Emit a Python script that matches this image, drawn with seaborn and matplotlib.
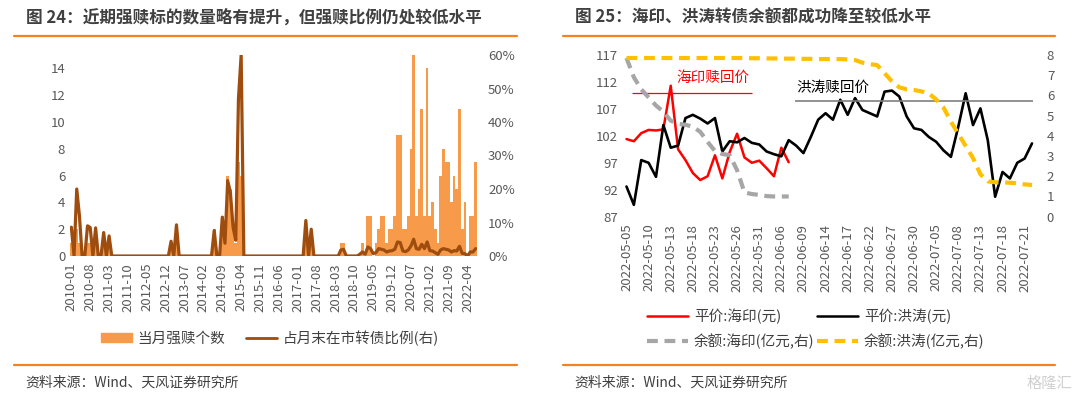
import numpy as np
import pandas as pd
import matplotlib
matplotlib.use("Agg")
import matplotlib.pyplot as plt
import seaborn as sns
from matplotlib.lines import Line2D
from matplotlib.patches import Patch
from matplotlib.ticker import FuncFormatter

sns.set_theme(style="white")
plt.rcParams["font.family"] = ["Noto Sans CJK SC", "DejaVu Sans"]

# ---------------- 图24 data (monthly, 2010-01 .. 2022-07)
months = pd.date_range("2010-01", periods=151, freq="MS").strftime("%Y-%m").tolist()

redeem_count = [
    1, 0, 2, 1, 0, 0, 1, 1, 0, 1, 0, 0,      # 2010
    1, 0, 1, 0, 0, 0, 0, 0, 0, 0, 0, 0,      # 2011
    0, 0, 0, 0, 0, 0, 0, 0, 0, 0, 0, 0,      # 2012
    0, 1, 0, 2, 0, 0, 0, 0, 0, 0, 0, 0,      # 2013
    0, 0, 0, 0, 0, 2, 0, 0, 3, 1, 6, 5,      # 2014
    2, 1, 7, 6, 0, 0, 0, 0, 0, 0, 0, 0,      # 2015
    0, 0, 0, 0, 0, 0, 0, 0, 0, 0, 0, 0,      # 2016
    0, 0, 0, 1, 0, 1, 0, 0, 0, 0, 0, 0,      # 2017
    0, 0, 0, 0, 1, 1, 0, 0, 0, 0, 0, 0,      # 2018
    1, 0, 3, 3, 0, 1, 2, 3, 3, 1, 2, 2,      # 2019
    3, 9, 9, 2, 2, 3, 8, 15, 3, 5, 11, 3,    # 2020
    14, 3, 4, 2, 1, 6, 8, 7, 7, 4, 6, 5,     # 2021
    11, 2, 4, 0, 3, 3, 7,                    # 2022
]

# 占月末在市转债比例 (%)
redeem_ratio = [
    8.6, 0, 20, 12, 0, 0, 9, 8.5, 0, 8.4, 0, 0,
    7, 0, 6, 0, 0, 0, 0, 0, 0, 0, 0, 0,
    0, 0, 0, 0, 0, 0, 0, 0, 0, 0, 0, 0,
    0, 4.4, 0, 9.3, 0, 0, 0, 0, 0, 0, 0, 0,
    0, 0, 0, 0, 0, 7.6, 0, 0, 11.6, 3.8, 22.5, 19,
    8.6, 4.7, 47, 60, 0, 0, 0, 0, 0, 0, 0, 0,
    0, 0, 0, 0, 0, 0, 0, 0, 0, 0, 0, 0,
    0, 0, 0, 10.6, 0, 8, 0, 0, 0, 0, 0, 0,
    0, 0, 0, 0, 1.8, 2, 0, 0, 0, 0, 0, 0.5,
    1.2, 0.5, 2.7, 2.2, 0.7, 1, 2.2, 2, 1.8, 1.2, 1.5, 1.6,
    2, 4.2, 4, 1.5, 1.3, 1.8, 3, 5, 2.2, 2, 3.5, 2.2,
    4.2, 1.6, 1.5, 1, 0.5, 1.8, 2.2, 2, 1.8, 1.2, 1.6, 1.5,
    2.9, 0.8, 0.7, 0, 1.2, 1.2, 2.2,
]

# ---------------- 图25 data (trading days)
days = (pd.bdate_range("2022-05-05", "2022-07-22")
        .drop(pd.Timestamp("2022-06-03")).strftime("%Y-%m-%d").tolist())

haiyin_price = [101.4, 101.0, 102.5, 103.1, 103.0, 103.2, 111.3, 99.5, 97.5, 95.1,
                93.8, 94.5, 98.4, 94.1, 99.0, 102.4, 98.0, 97.0, 97.4, 96.0,
                94.5, 99.8, 97.1]
hongtao_price = [92.6, 89.2, 97.5, 97.0, 94.4, 104.0, 99.8, 100.2, 105.3, 105.9,
                 105.2, 104.3, 105.3, 99.1, 101.0, 100.8, 101.6, 100.7, 100.4, 99.1,
                 98.6, 98.2, 101.2, 100.2, 98.8, 101.8, 105.0, 106.2, 105.0, 108.7,
                 105.9, 109.0, 106.8, 106.2, 105.6, 110.2, 110.4, 109.3, 105.6, 103.4,
                 103.1, 101.8, 100.9, 99.3, 98.1, 103.7, 109.9, 104.0, 107.1, 101.2,
                 90.7, 95.3, 94.1, 97.0, 97.8, 100.6]
haiyin_balance = [7.85, 6.9, 6.3, 5.9, 5.5, 5.2, 4.75, 4.6, 4.55, 4.45,
                  4.2, 3.7, 3.25, 3.1, 3.05, 2.3, 1.2, 1.12, 1.08, 1.02,
                  1.0, 1.0, 1.0]
hongtao_balance = [7.85, 7.85, 7.85, 7.85, 7.85, 7.85, 7.85, 7.85, 7.85, 7.85,
                   7.85, 7.85, 7.85, 7.85, 7.85, 7.85, 7.85, 7.84, 7.84, 7.83,
                   7.83, 7.82, 7.82, 7.82, 7.81, 7.81, 7.8, 7.8, 7.8, 7.8,
                   7.78, 7.75, 7.62, 7.55, 7.5, 7.1, 6.7, 6.4, 6.3, 6.27,
                   6.2, 6.1, 5.8, 5.4, 4.7, 4.1, 3.5, 2.9, 2.1, 1.75,
                   1.7, 1.7, 1.68, 1.65, 1.6, 1.57]
haiyin_call = 110.0
hongtao_call = 108.5

W, H = 1080, 397
ORANGE = "#F5821F"
BAR = "#F79B4B"
BROWN = "#9E4D0E"
TICK = "#595959"

fig = plt.figure(figsize=(W / 100, H / 100), dpi=100)


def frac(x0, y0, x1, y1):
    return [x0 / W, 1 - y1 / H, (x1 - x0) / W, (y1 - y0) / H]


def clean(ax):
    for s in ax.spines.values():
        s.set_visible(False)
    ax.tick_params(length=0, colors=TICK, labelsize=9.5)
    ax.set_xlabel("")
    ax.set_ylabel("")
    ax.grid(False)


# ---------------- left chart
df1 = pd.DataFrame({"pos": np.arange(len(months)), "count": redeem_count,
                    "ratio": np.array(redeem_ratio) / 100})
ax1 = fig.add_axes(frac(70, 55, 477, 256))
sns.barplot(data=df1, x="pos", y="count", color=BAR, saturation=1, width=1.0,
            linewidth=0, ax=ax1)
ax1.set_xlim(-0.5, len(months) - 0.5)
ax1.set_ylim(0, 15)
ax1.set_yticks(range(0, 15, 2))
ax1.set_xticks(range(0, len(months), 7))
ax1.set_xticklabels(months[::7], rotation=90)
ax1.tick_params(axis="x", pad=5)
clean(ax1)

ax2 = ax1.twinx()
sns.lineplot(data=df1, x="pos", y="ratio", color=BROWN, lw=2.3, ax=ax2, legend=False)
ax2.set_ylim(0, 0.6)
ax2.set_yticks(np.arange(0, 0.61, 0.1))
ax2.yaxis.set_major_formatter(FuncFormatter(lambda v, p: f"{v * 100:.0f}%"))
clean(ax2)
ax2.tick_params(axis="y", pad=8)

fig.legend(handles=[Patch(color=BAR, label="当月强赎个数"),
                    Line2D([], [], color=BROWN, lw=2, label="占月末在市转债比例(右)")],
           loc="center", bbox_to_anchor=(270 / W, 1 - 338 / H), ncol=2, frameon=False,
           fontsize=10.5, handlelength=2.1, handleheight=0.5, columnspacing=1.4,
           handletextpad=0.4, labelcolor="#404040")

# ---------------- right chart
x_all = np.arange(len(days))
ax3 = fig.add_axes(frac(622.8, 55, 1035.7, 216.7))
sns.lineplot(x=x_all[:len(haiyin_price)], y=haiyin_price, color="#FF0000", lw=1.8,
             ax=ax3, legend=False)
sns.lineplot(x=x_all, y=hongtao_price, color="black", lw=1.9, ax=ax3, legend=False)
ax3.hlines(haiyin_call, 0.8, 17, color="#FF0000", lw=0.9)
ax3.hlines(hongtao_call, 22.9, 55.1, color="#7F7F7F", lw=1.2)
ax3.text(6.8, 112.7, "海印赎回价", color="#FF0000", fontsize=10.5, va="center")
ax3.text(23.1, 110.9, "洪涛赎回价", color="black", fontsize=10.5, va="center")
ax3.set_xlim(-0.5, len(days) - 0.5)
ax3.set_ylim(87, 117)
ax3.set_yticks(range(87, 118, 5))
ax3.set_xticks(range(0, len(days), 3))
ax3.set_xticklabels(days[::3], rotation=90)
clean(ax3)
ax3.tick_params(axis="x", pad=5)

ax4 = ax3.twinx()
sns.lineplot(x=x_all[:len(haiyin_balance)], y=haiyin_balance, color="#A6A6A6", lw=3,
             linestyle=(0, (2.6, 1.6)), ax=ax4, legend=False)
sns.lineplot(x=x_all, y=hongtao_balance, color="#FFC000", lw=3,
             linestyle=(0, (2.6, 1.6)), ax=ax4, legend=False)
ax4.set_ylim(0, 8)
ax4.set_yticks(range(0, 9))
clean(ax4)
ax4.tick_params(axis="y", pad=8)

fig.legend(handles=[Line2D([], [], color="#FF0000", lw=1.8, label="平价:海印(元)"),
                    Line2D([], [], color="#A6A6A6", lw=3, ls=(0, (2.6, 1.6)),
                           label="余额:海印(亿元,右)"),
                    Line2D([], [], color="black", lw=1.8, label="平价:洪涛(元)"),
                    Line2D([], [], color="#FFC000", lw=3, ls=(0, (2.6, 1.6)),
                           label="余额:洪涛(亿元,右)")],
           loc="center", bbox_to_anchor=(816 / W, 1 - 329 / H), ncol=2, frameon=False,
           fontsize=10.5, handlelength=2.8, columnspacing=0.2, handletextpad=0.4,
           labelspacing=0.6, labelcolor="#404040")

# ---------------- titles, rules, source
for x0, x1, title in [(26, 14, "图 24：近期强赎标的数量略有提升，但强赎比例仍处较低水平"),
                      (575, 563, "图 25：海印、洪涛转债余额都成功降至较低水平")]:
    fig.text(x0 / W, 1 - 18 / H, title, fontsize=12, weight="bold", color="#404040",
             va="center")
    right = 517 if x1 == 14 else 1055
    for yy in (36, 365):
        fig.add_artist(Line2D([x1 / W, right / W], [1 - yy / H, 1 - yy / H],
                              color=ORANGE, lw=1.6, transform=fig.transFigure))
    fig.text((x0 - 1) / W, 1 - 383 / H, "资料来源：Wind、天风证券研究所", fontsize=10,
             color="#404040", va="center")

fig.text(1072 / W, 1 - 383 / H, "格隆汇", fontsize=11, color="#D0D0D0", ha="right",
         va="center")

fig.savefig("out.png", dpi=100)
